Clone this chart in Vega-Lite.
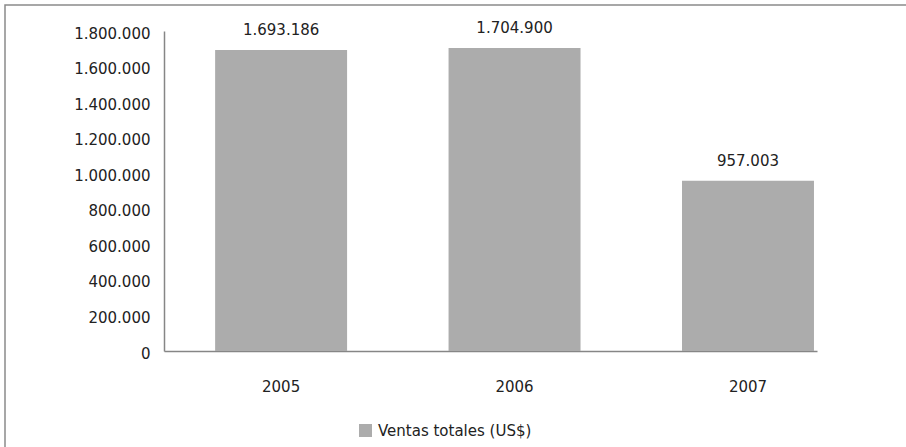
{
  "$schema": "https://vega.github.io/schema/vega-lite/v6.json",
  "autosize": {"type": "none"},
  "width": 904,
  "height": 445,
  "padding": {"left": 5, "top": 5, "right": -3, "bottom": -3},
  "background": "#ffffff",
  "config": {
    "font": "DejaVu Sans",
    "locale": {"number": {"decimal": ",", "thousands": ".", "grouping": [3], "currency": ["$", ""]}},
    "view": {"stroke": "#8a8a8a", "strokeWidth": 1.5}
  },
  "data": {
    "values": [
      {"anio": "2005", "ventas": 1693186, "serie": "Ventas totales (US$)"},
      {"anio": "2006", "ventas": 1704900, "serie": "Ventas totales (US$)"},
      {"anio": "2007", "ventas": 957003, "serie": "Ventas totales (US$)"}
    ]
  },
  "encoding": {
    "x": {
      "field": "anio",
      "type": "nominal",
      "sort": null,
      "scale": {"range": [159, 812], "paddingInner": 0.4347, "paddingOuter": 0.116, "align": 0.944, "round": false},
      "axis": {
        "title": null,
        "offset": -99,
        "domainColor": "#868686",
        "domainWidth": 1.5,
        "ticks": false,
        "tickSize": 0,
        "labelAngle": 0,
        "labelPadding": 35,
        "labelBaseline": "middle",
        "labelFont": "DejaVu Sans",
        "labelFontSize": 15,
        "labelColor": "#222222",
        "grid": false
      }
    },
    "y": {
      "field": "ventas",
      "type": "quantitative",
      "scale": {"domain": [0, 1800000], "range": [346, 26], "nice": false, "zero": true},
      "axis": {
        "title": null,
        "offset": -159,
        "values": [0, 200000, 400000, 600000, 800000, 1000000, 1200000, 1400000, 1600000, 1800000],
        "format": ",d",
        "domainColor": "#868686",
        "domainWidth": 1.5,
        "ticks": false,
        "tickSize": 0,
        "labelPadding": 14,
        "labelOffset": 2,
        "labelBaseline": "middle",
        "labelFont": "DejaVu Sans",
        "labelFontSize": 15,
        "labelColor": "#222222",
        "grid": false
      }
    }
  },
  "layer": [
    {
      "mark": {"type": "bar"},
      "encoding": {
        "color": {
          "field": "serie",
          "type": "nominal",
          "scale": {"range": ["#acacac"]},
          "legend": {
            "title": null,
            "orient": "none",
            "legendX": 353,
            "legendY": 418,
            "padding": 0,
            "symbolType": "square",
            "symbolSize": 169,
            "symbolStrokeWidth": 0,
            "symbolOpacity": 1,
            "labelFont": "DejaVu Sans",
            "labelFontSize": 15,
            "labelColor": "#222222",
            "labelOffset": 5
          }
        }
      }
    },
    {
      "mark": {"type": "text", "baseline": "middle", "dy": -20, "font": "DejaVu Sans", "fontSize": 15, "color": "#222222"},
      "encoding": {
        "text": {"field": "ventas", "type": "quantitative", "format": ",d"}
      }
    }
  ]
}
